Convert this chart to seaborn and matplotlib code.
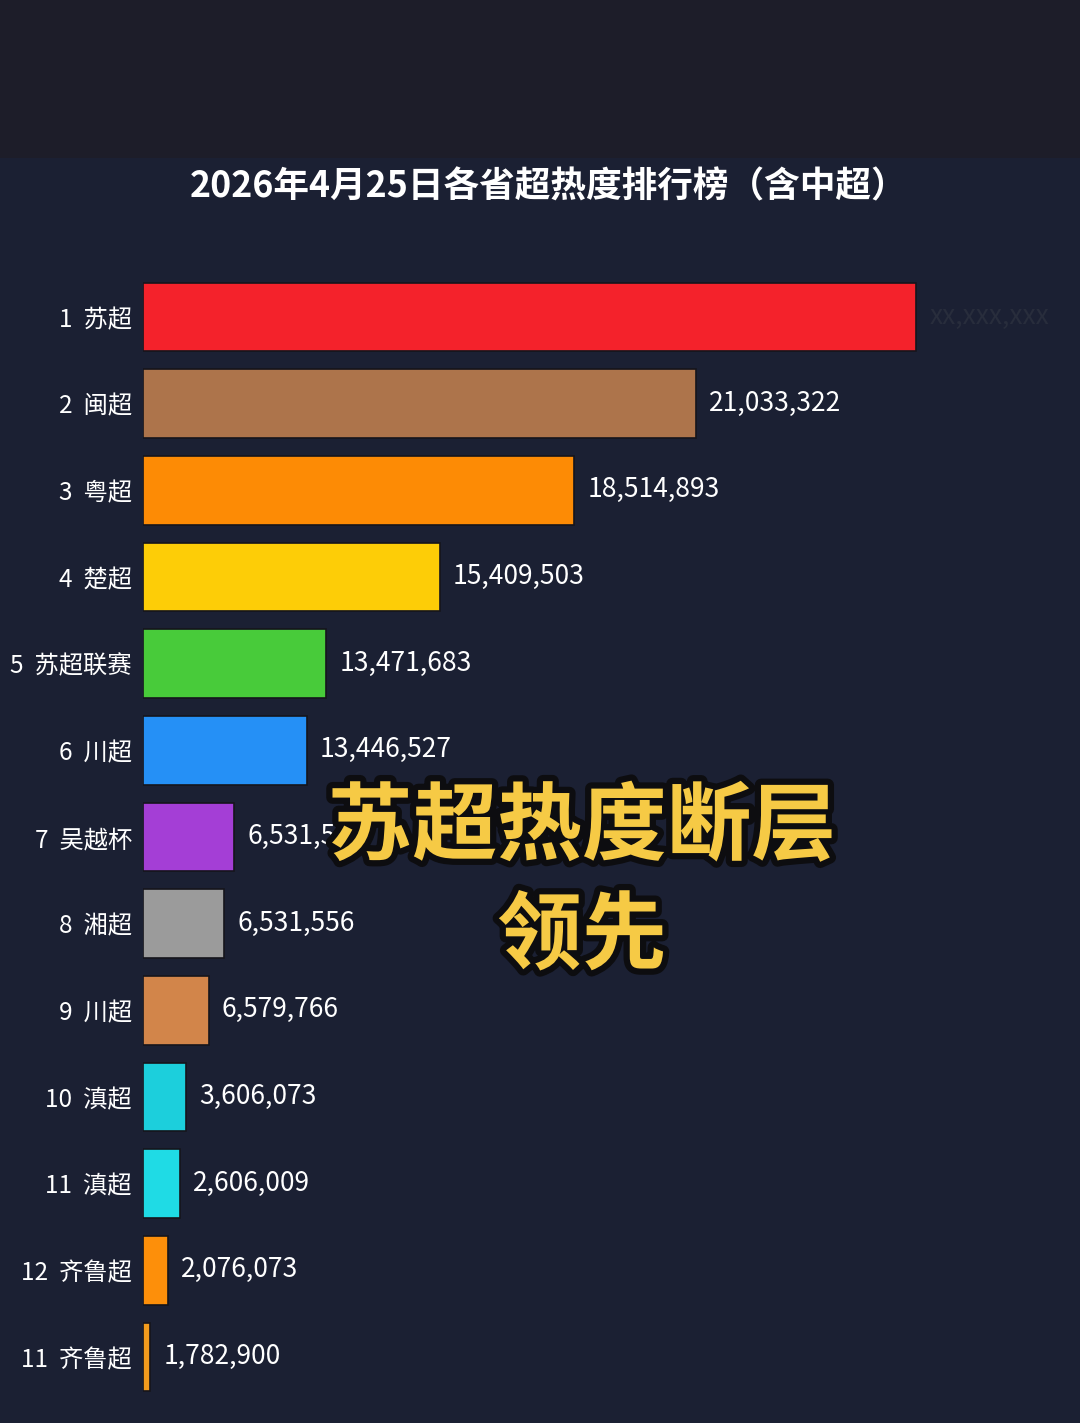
import seaborn as sns
import matplotlib.pyplot as plt
import matplotlib.patheffects as pe
from matplotlib.patches import Rectangle
import pandas as pd

# ranking as shown in the picture
ranks = ["1", "2", "3", "4", "5", "6", "7", "8", "9", "10", "11", "12", "11"]
names = ["苏超", "闽超", "粤超", "楚超", "苏超联赛", "川超", "吴越杯",
         "湘超", "川超", "滇超", "滇超", "齐鲁超", "齐鲁超"]
# bar length relative to the leader (the drawn bars do not follow the printed numbers)
bar_len = [100, 71.5, 55.8, 38.4, 23.7, 21.2, 11.8, 10.5, 8.5, 5.6, 4.8, 3.2, 0.9]
# printed values, first one is blurred out in the source
value_labels = ["xx,xxx,xxx", "21,033,322", "18,514,893", "15,409,503", "13,471,683",
                "13,446,527", "6,531,5", "6,531,556", "6,579,766", "3,606,073",
                "2,606,009", "2,076,073", "1,782,900"]
colors = ["#f4222b", "#ad744b", "#fd8b05", "#fdcd07", "#48cb3a", "#2590f6",
          "#a43ed6", "#9b9b9b", "#d2854a", "#1ccfdc", "#1fdbe5", "#fd8f0a", "#f39b1d"]

title = "2026年4月25日各省超热度排行榜（含中超）"
overlay = "苏超热度断层\n领先"

bg = "#1b2033"
band = "#1d1d29"

sns.set_style("dark")
plt.rcParams['font.family'] = ['Noto Sans CJK SC', 'DejaVu Sans']

df = pd.DataFrame({'label': [r + "  " + n for r, n in zip(ranks, names)],
                   'length': bar_len})

fig = plt.figure(figsize=(10.8, 14.23), dpi=100)
fig.patch.set_facecolor(bg)
fig.patches.append(Rectangle((0, 1 - 158 / 1423), 1, 158 / 1423, transform=fig.transFigure,
                             facecolor=band, edgecolor='none', zorder=0))

ax = fig.add_axes([143 / 1080, 0.01593, 937 / 1080, 0.79175])
ax.set_facecolor(bg)
sns.barplot(data=df, x='length', y='label', hue='label', palette=colors,
            legend=False, width=0.79, orient='h', ax=ax,
            edgecolor='#15151c', linewidth=1.2, saturation=1)

ax.set_xlim(0, 100 * 937 / 773)
ax.set_ylim(len(df) - 0.5, -0.5)
ax.set_xlabel("")
ax.set_ylabel("")
ax.set_xticks([])
ax.grid(False)
for s in ax.spines.values():
    s.set_visible(False)
ax.tick_params(axis='y', length=0, pad=8, labelsize=17.5, labelcolor='white')

for i, (v, txt) in enumerate(zip(bar_len, value_labels)):
    col = 'white' if i > 0 else '#282d3c'
    ax.annotate(txt, xy=(v, i), xytext=(9.5, 0.5), textcoords='offset points',
                ha='left', va='center', fontsize=19, color=col)

fig.text(0.508, 1 - 187 / 1423, title, ha='center', va='center',
         fontsize=25.7, color='white', fontweight='bold')

lines = overlay.split("\n")
for line, yp in zip(lines, [828, 937]):
    fig.text(582 / 1080, 1 - yp / 1423, line, ha='center', va='center',
             fontsize=61, color='#f6ca45', fontweight='heavy',
             path_effects=[pe.withStroke(linewidth=9, foreground='#0d0d10')])

fig.savefig("out.png", dpi=100, facecolor=fig.get_facecolor())
